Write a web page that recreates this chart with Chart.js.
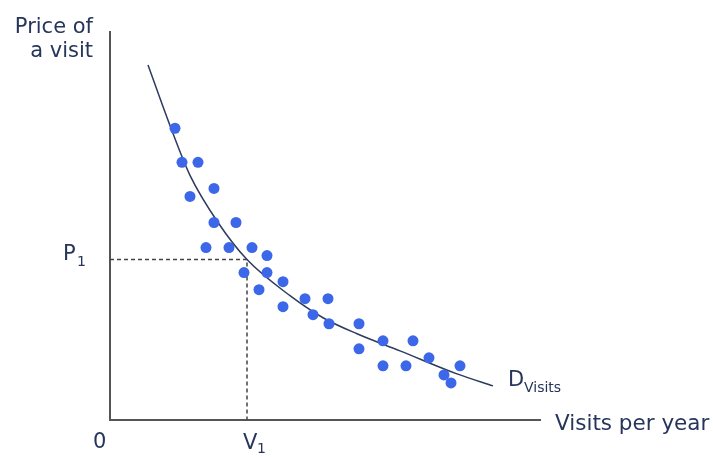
<!DOCTYPE html>
<html>
<head>
<meta charset="utf-8">
<script src="https://cdn.jsdelivr.net/npm/chart.js@4.4.1/dist/chart.umd.min.js"></script>
<style>
  html, body { margin: 0; padding: 0; background: #fff; }
  #wrap { width: 713px; height: 457px; }
</style>
</head>
<body>
<div id="wrap"><canvas id="demandChart" width="713" height="457"></canvas></div>
<script>
const visitsX = [6.5, 7.2, 8.8, 8.0, 10.4, 10.4, 12.6, 9.6, 11.9, 14.2, 15.7, 13.4, 15.7, 17.3, 14.9,
    17.3, 19.5, 21.8, 20.3, 21.9, 24.9, 24.9, 27.3, 30.3, 27.3, 29.6, 31.9, 33.4, 35.0, 34.1];
const priceY = [29.1, 25.7, 25.7, 22.3, 23.1, 19.7, 19.7, 17.2, 17.2, 17.2, 16.4, 14.7, 14.7, 13.8, 13.0,
    11.3, 12.1, 12.1, 10.5, 9.6, 9.6, 7.1, 7.9, 7.9, 5.4, 5.4, 6.2, 4.5, 5.4, 3.7];

// demand curve D_visits
const curveX = [3.8, 6.1, 8.0, 10.8, 13.7, 18.0, 21.3, 24.7, 29.0, 34.7, 38.3];
const curveY = [35.4, 29.1, 24.4, 19.7, 16.0, 12.4, 10.2, 8.6, 6.9, 4.6, 3.4];

const p1 = 16.0;
const v1 = 13.7;
const axisMaxX = 43;
const axisMaxY = 38.7;

const textColor = '#26365a';
const font = '"DejaVu Sans", Verdana, sans-serif';

const labelsPlugin = {
    id: 'econLabels',
    afterDraw(chart) {
        const ctx = chart.ctx;
        const xs = chart.scales.x;
        const ys = chart.scales.y;
        const x0 = xs.getPixelForValue(0);
        const y0 = ys.getPixelForValue(0);
        ctx.save();
        ctx.fillStyle = textColor;
        ctx.textBaseline = 'alphabetic';

        // y axis title
        ctx.font = '21px ' + font;
        ctx.textAlign = 'right';
        ctx.fillText('Price of', x0 - 17, 33);
        ctx.fillText('a visit', x0 - 17, 57);

        // x axis title
        ctx.textAlign = 'left';
        ctx.font = '21.5px ' + font;
        ctx.fillText('Visits per year', xs.right + 15, y0 + 10);

        // origin
        ctx.font = '21px ' + font;
        ctx.fillText('0', x0 - 17, y0 + 28);

        // P1
        const py = ys.getPixelForValue(p1);
        ctx.fillText('P', x0 - 47, py);
        ctx.font = '14px ' + font;
        ctx.fillText('1', x0 - 33, py + 6);

        // V1
        const vx = xs.getPixelForValue(v1);
        ctx.font = '21px ' + font;
        ctx.fillText('V', vx - 4, y0 + 29);
        ctx.font = '14px ' + font;
        ctx.fillText('1', vx + 10, y0 + 33);

        // D visits
        const last = curveX.length - 1;
        const dx = xs.getPixelForValue(curveX[last]) + 15;
        const dy = ys.getPixelForValue(curveY[last]);
        ctx.font = '21px ' + font;
        ctx.fillText('D', dx, dy);
        ctx.font = '14px ' + font;
        ctx.fillText('Visits', dx + 16, dy + 6);
        ctx.restore();
    }
};

new Chart(document.getElementById('demandChart').getContext('2d'), {
    type: 'scatter',
    data: {
        datasets: [
            {
                label: 'Observations',
                data: visitsX.map((x, i) => ({ x: x, y: priceY[i] })),
                backgroundColor: '#3b67e8',
                borderColor: '#3b67e8',
                pointRadius: 5.5,
                borderWidth: 0,
            },
            {
                label: 'Demand',
                type: 'line',
                data: curveX.map((x, i) => ({ x: x, y: curveY[i] })),
                borderColor: '#2c3b5e',
                borderWidth: 1.5,
                pointRadius: 0,
                cubicInterpolationMode: 'monotone',
                fill: false,
            },
            {
                label: 'P1 V1',
                type: 'line',
                data: [{ x: 0, y: p1 }, { x: v1, y: p1 }, { x: v1, y: 0 }],
                borderColor: '#444',
                borderWidth: 1.5,
                borderDash: [4, 3],
                pointRadius: 0,
                tension: 0,
                fill: false,
            },
        ],
    },
    options: {
        responsive: false,
        animation: false,
        layout: { padding: { left: 102, right: 173, top: 32, bottom: 29 } },
        plugins: {
            legend: { display: false },
            tooltip: { enabled: false },
        },
        scales: {
            x: {
                type: 'linear',
                min: 0,
                max: axisMaxX,
                grid: { display: false },
                ticks: { display: false },
                border: { display: true, color: '#555', width: 2 },
            },
            y: {
                type: 'linear',
                min: 0,
                max: axisMaxY,
                grid: { display: false },
                ticks: { display: false },
                border: { display: true, color: '#555', width: 2 },
            },
        },
    },
    plugins: [labelsPlugin],
});
</script>
</body>
</html>
